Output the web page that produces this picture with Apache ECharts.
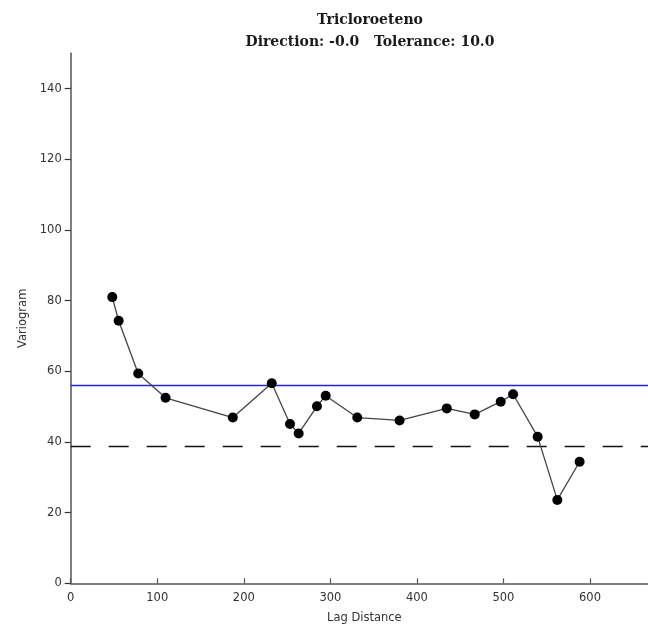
<!DOCTYPE html>
<html><head><meta charset="utf-8">
<script src="https://cdn.jsdelivr.net/npm/echarts@6/dist/echarts.min.js"></script>
<style>html,body{margin:0;padding:0;background:#fff}#c{width:648px;height:632px}</style>
</head><body><div id="c"></div>
<script>
const titleLine1 = 'Tricloroeteno';
const titleLine2 = 'Direction: -0.0   Tolerance: 10.0';
const lagDistance = [48.0, 55.4, 78.0, 109.6, 187.3, 232.3, 253.4, 263.4, 284.5, 294.6, 331.1, 380.0, 434.5, 466.8, 496.8, 511.1, 539.5, 562.2, 588.0];
const variogram = [81.0, 74.3, 59.4, 52.5, 46.9, 56.6, 45.1, 42.4, 50.1, 53.1, 46.9, 46.1, 49.5, 47.8, 51.4, 53.5, 41.5, 23.6, 34.4];
const sillValue = 56.1;
const nuggetLine = 38.7;
const xTicks = [0, 100, 200, 300, 400, 500, 600];
const yTicks = [0, 20, 40, 60, 80, 100, 120, 140];

const chart = echarts.init(document.getElementById('c'), null, {renderer: 'canvas'});
const pts = lagDistance.map((x, i) => [x, variogram[i]]);
const axisFont = {fontFamily: 'DejaVu Sans', fontSize: 11.5, color: '#333'};
chart.setOption({
  animation: false,
  title: {
    text: titleLine1 + '\n' + titleLine2,
    left: 365, top: 4, textAlign: 'center',
    textStyle: {fontFamily: 'DejaVu Serif', fontWeight: 'bold', fontSize: 14, color: '#1a1a1a', lineHeight: 22}
  },
  grid: {left: 70.7, top: 53.3, width: 578, height: 530},
  xAxis: {
    type: 'value', min: 0, max: 667, interval: 100,
    name: 'Lag Distance', nameLocation: 'middle', nameGap: 29,
    nameTextStyle: {fontFamily: 'DejaVu Sans', fontSize: 11.5, color: '#333', padding: [0, 0, 0, 10]},
    axisLine: {show: true, onZero: false, lineStyle: {color: '#555', width: 1.5}},
    axisTick: {show: true, inside: true, length: 5, lineStyle: {color: '#555', width: 1.2}},
    axisLabel: Object.assign({margin: 9, showMaxLabel: false}, axisFont),
    splitLine: {show: false}
  },
  yAxis: {
    type: 'value', min: 0, max: 150, interval: 20,
    name: 'Variogram', nameLocation: 'middle', nameGap: 39, nameRotate: 90,
    nameTextStyle: {fontFamily: 'DejaVu Sans', fontSize: 11.5, color: '#333'},
    axisLine: {show: true, onZero: false, lineStyle: {color: '#555', width: 1.5}},
    axisTick: {show: true, inside: false, length: 6, lineStyle: {color: '#333', width: 1.2}},
    axisLabel: Object.assign({margin: 9, showMaxLabel: false}, axisFont),
    splitLine: {show: false}
  },
  series: [
    {
      type: 'line', data: pts, symbol: 'circle', symbolSize: 10,
      itemStyle: {color: '#000'},
      lineStyle: {color: '#444', width: 1.3},
      z: 5,
      markLine: {
        silent: true, symbol: 'none', label: {show: false},
        data: [
          {yAxis: sillValue, lineStyle: {color: '#2424d0', width: 1.3, type: 'solid'}},
          {yAxis: nuggetLine, lineStyle: {color: '#111', width: 1.3, type: [20, 18]}}
        ]
      }
    }
  ]
});
</script></body></html>
